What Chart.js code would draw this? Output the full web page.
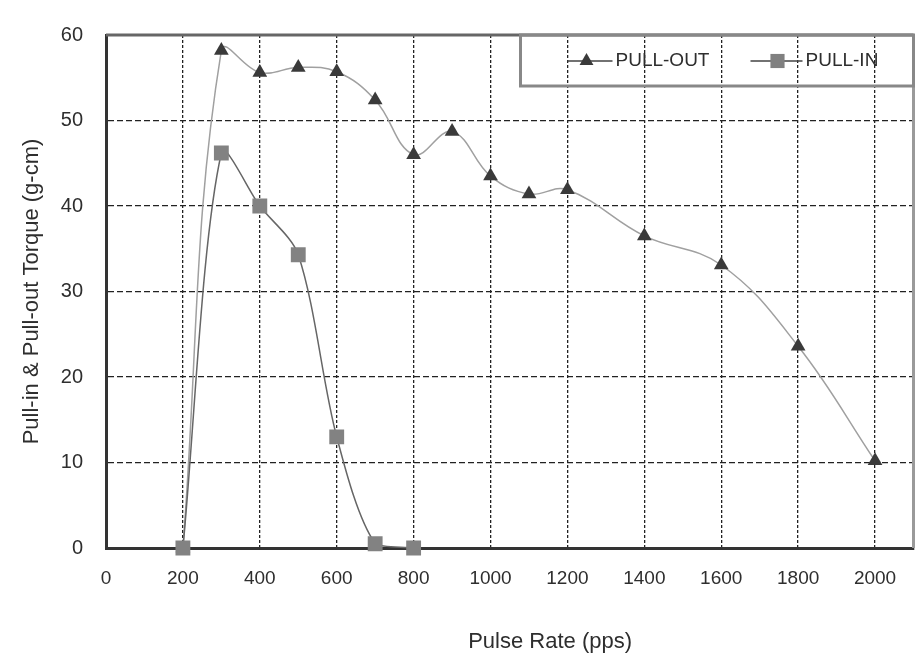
<!DOCTYPE html>
<html>
<head>
<meta charset="utf-8">
<title>Pull-in & Pull-out Torque</title>
<script src="https://cdn.jsdelivr.net/npm/chart.js@4.4.1/dist/chart.umd.min.js"></script>
<style>
    html, body { margin: 0; padding: 0; background: #ffffff; }
    #wrap { width: 924px; height: 660px; }
</style>
</head>
<body>
<div id="wrap"><canvas id="torqueChart" width="924" height="660"></canvas></div>
<script>
// Datos
const pullOutRates = [200, 300, 400, 500, 600, 700, 800, 900, 1000, 1100, 1200, 1400, 1600, 1800, 2000];
const pullOutTorque = [0, 58.2, 55.6, 56.2, 55.7, 52.4, 46.0, 48.7, 43.5, 41.4, 41.9, 36.5, 33.1, 23.6, 10.2];

const pullInRates = [200, 300, 400, 500, 600, 700, 800];
const pullInTorque = [0, 46.2, 40.0, 34.3, 13.0, 0.5, 0];

const seriesNames = ['PULL-OUT', 'PULL-IN'];
const xTitle = 'Pulse Rate (pps)';
const yTitle = 'Pull-in & Pull-out Torque (g-cm)';

const FONT = '"Liberation Sans", Arial, sans-serif';
const TEXT = '#2e2e2e';

function toPoints(xs, ys) {
    return xs.map((x, i) => ({ x: x, y: ys[i] }));
}

// Marco superior/derecho, leyenda dentro del area y titulo del eje X
const framePlugin = {
    id: 'frame',
    afterDraw(chart) {
        const { ctx, chartArea: a } = chart;
        ctx.save();

        // bordes superior y derecho
        ctx.lineWidth = 3;
        ctx.strokeStyle = '#666666';
        ctx.beginPath();
        ctx.moveTo(a.left, a.top);
        ctx.lineTo(a.right, a.top);
        ctx.stroke();
        ctx.strokeStyle = '#9a9a9a';
        ctx.beginPath();
        ctx.moveTo(a.right, a.top);
        ctx.lineTo(a.right, a.bottom);
        ctx.stroke();

        // leyenda
        const bx = a.right - 393;
        const by = a.top;
        const bh = 51;
        ctx.strokeStyle = '#888888';
        ctx.lineWidth = 3;
        ctx.strokeRect(bx, by, a.right - bx, bh);

        const ly = by + 26;
        ctx.lineWidth = 1.5;
        ctx.strokeStyle = '#444444';
        ctx.beginPath();
        ctx.moveTo(bx + 47, ly);
        ctx.lineTo(bx + 92, ly);
        ctx.moveTo(bx + 230, ly);
        ctx.lineTo(bx + 282, ly);
        ctx.stroke();

        ctx.fillStyle = '#3a3a3a';
        Chart.helpers.drawPoint(ctx, { pointStyle: 'triangle', radius: 8, rotation: 0, borderWidth: 0 }, bx + 66, ly);
        ctx.fillStyle = '#808080';
        Chart.helpers.drawPoint(ctx, { pointStyle: 'rect', radius: 10, rotation: 0, borderWidth: 0 }, bx + 257, ly);

        ctx.fillStyle = TEXT;
        ctx.font = '19px ' + FONT;
        ctx.textBaseline = 'middle';
        ctx.textAlign = 'left';
        ctx.fillText(seriesNames[0], bx + 95, ly);
        ctx.fillText(seriesNames[1], bx + 285, ly);

        // titulo eje X (desplazado a la derecha como en el original)
        ctx.font = '22px ' + FONT;
        ctx.textAlign = 'center';
        ctx.fillText(xTitle, a.left + (a.right - a.left) * 0.55, chart.height - 18);

        ctx.restore();
    }
};

const ctx = document.getElementById('torqueChart');

new Chart(ctx, {
    type: 'line',
    data: {
        datasets: [{
            label: seriesNames[0],
            data: toPoints(pullOutRates, pullOutTorque),
            borderColor: '#a0a0a0',
            borderWidth: 1.5,
            pointStyle: 'triangle',
            pointRadius: 8.5,
            pointBorderWidth: 0,
            pointBackgroundColor: '#3a3a3a',
            tension: 0.4,
            clip: 12,
            order: 1
        }, {
            label: seriesNames[1],
            data: toPoints(pullInRates, pullInTorque),
            borderColor: '#666666',
            borderWidth: 1.5,
            pointStyle: 'rect',
            pointRadius: 10.5,
            pointBorderWidth: 0,
            pointBackgroundColor: '#828282',
            tension: 0.3,
            clip: 12,
            order: 0
        }]
    },
    options: {
        responsive: false,
        animation: false,
        layout: { padding: { top: 17, right: 8, left: 0, bottom: 0 } },
        plugins: {
            legend: { display: false },
            tooltip: { enabled: false }
        },
        scales: {
            x: {
                type: 'linear',
                min: 0,
                max: 2100,
                ticks: {
                    stepSize: 200,
                    includeBounds: false,
                    color: TEXT,
                    padding: 19,
                    maxRotation: 0,
                    font: { family: FONT, size: 19 },
                    callback: (v) => String(v)
                },
                grid: {
                    color: '#222222',
                    lineWidth: 1.3,
                    drawTicks: false
                },
                border: { color: '#333333', width: 3, dash: [3, 2] },
                afterFit: (scale) => { scale.height = 112; }
            },
            y: {
                min: 0,
                max: 60,
                ticks: {
                    stepSize: 10,
                    color: TEXT,
                    padding: 23,
                    font: { family: FONT, size: 20 }
                },
                grid: {
                    color: '#222222',
                    lineWidth: 1.3,
                    drawTicks: false
                },
                border: { color: '#333333', width: 3, dash: [6, 3] },
                title: {
                    display: true,
                    text: yTitle,
                    color: TEXT,
                    padding: { top: 19, bottom: 0 },
                    font: { family: FONT, size: 22 }
                },
                afterFit: (scale) => { scale.width = 106; }
            }
        }
    },
    plugins: [framePlugin]
});
</script>
</body>
</html>
